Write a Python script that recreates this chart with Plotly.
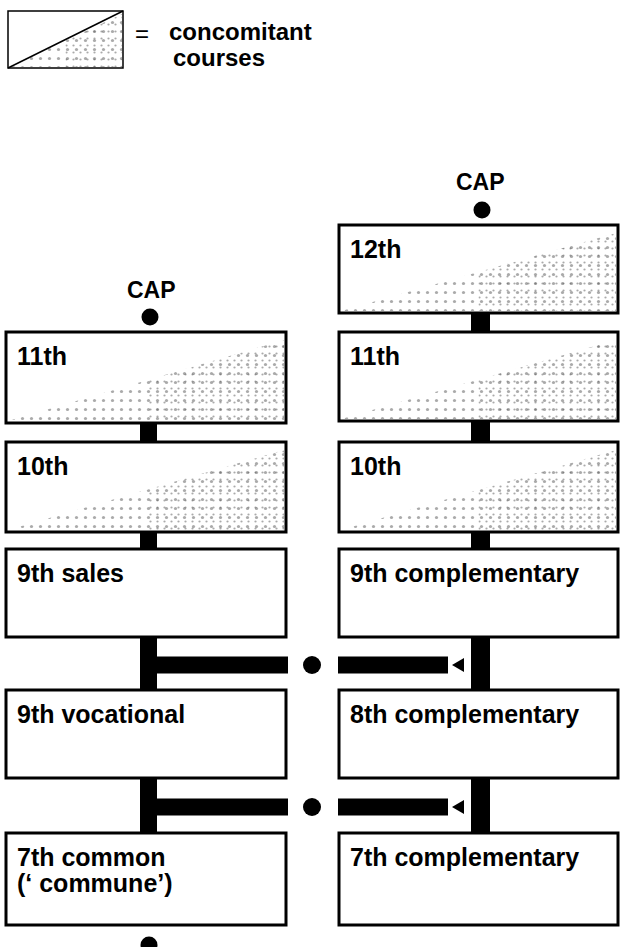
import plotly.graph_objects as go

W, H = 621, 947

# ---- content ----
legend_text = ["concomitant", "courses"]
cap_label = "CAP"
left_labels = ["11th", "10th", "9th sales", "9th vocational", "7th common<br>(‘ commune’)"]
right_labels = ["12th", "11th", "10th", "9th complementary", "8th complementary", "7th complementary"]
left_concomitant = [True, True, False, False, False]
right_concomitant = [True, True, True, False, False, False]

# ---- layout geometry (pixels) ----
LX0, LX1 = 6, 286
RX0, RX1 = 339, 618
left_top = [332, 442, 549, 690, 833]
left_bot = [423, 532, 637, 778, 925]
right_top = [225, 332, 442, 549, 690, 833]
right_bot = [313, 421, 532, 637, 778, 925]
LCX = (140, 157)
RCX = (471, 490)

FONT = "Liberation Sans, Arial, Helvetica, sans-serif"
LABEL_SIZE = 25

fig = go.Figure()
shapes = []
annotations = []


def rect(x0, y0, x1, y1, fill="black", lw=0, layer="below"):
    shapes.append(dict(type="rect", xref="x", yref="y", x0=x0, y0=y0, x1=x1, y1=y1,
                       fillcolor=fill, line=dict(color="black", width=lw), layer=layer))


def circle(cx, cy, r):
    shapes.append(dict(type="circle", xref="x", yref="y", x0=cx - r, y0=cy - r, x1=cx + r, y1=cy + r,
                       fillcolor="black", line=dict(color="black", width=0), layer="above"))


def text(x, y, s, size=LABEL_SIZE, bold=True, anchor="left"):
    annotations.append(dict(x=x, y=y, xref="x", yref="y", text=s, showarrow=False,
                            xanchor=anchor, yanchor="middle",
                            font=dict(family=FONT, size=size, color="black",
                                      weight="bold" if bold else "normal")))


def stipple(x0, y0, x1, y1):
    # lower-right triangle, denser toward the right
    fig.add_trace(go.Scatter(x=[x0, x1, x1, x0], y=[y1, y1, y0, y1], mode="lines",
                             line=dict(width=0), fill="toself", fillcolor="rgba(0,0,0,0)",
                             fillpattern=dict(shape=".", fgcolor="#555", bgcolor="rgba(0,0,0,0)",
                                              size=9, solidity=0.1, fillmode="overlay"),
                             hoverinfo="skip", showlegend=False))
    xm = x0 + 0.5 * (x1 - x0)
    ym = y1 - 0.5 * (y1 - y0)
    fig.add_trace(go.Scatter(x=[xm, x1, x1, xm, xm], y=[y1, y1, y0, ym, y1], mode="lines",
                             line=dict(width=0), fill="toself", fillcolor="rgba(0,0,0,0)",
                             fillpattern=dict(shape=".", fgcolor="#555", bgcolor="rgba(0,0,0,0)",
                                              size=7, solidity=0.08, fillmode="overlay"),
                             hoverinfo="skip", showlegend=False))


def column(labels, tops, bots, conc, x0, x1, cx):
    for i, lab in enumerate(labels):
        rect(x0, tops[i], x1, bots[i], fill="white", lw=3, layer="below")
        if conc[i]:
            stipple(x0 + 2, tops[i] + 8, x1 - 2, bots[i] - 2)
        lines = lab.split("<br>")
        for j, ln in enumerate(lines):
            text(x0 + 9, tops[i] + 24 + 26 * j, ln)
        if i < len(labels) - 1:
            rect(cx[0], bots[i], cx[1], tops[i + 1], layer="above")


# legend
rect(8, 11, 123, 68, fill="white", lw=1.5, layer="below")
stipple(9, 14, 122, 67)
shapes.append(dict(type="line", xref="x", yref="y", x0=8, y0=68, x1=123, y1=11,
                   line=dict(color="black", width=1.5), layer="above"))
text(142, 33, "=", size=24, bold=False, anchor="center")
text(167, 31, legend_text[0], size=24)
text(171, 57, legend_text[1], size=24)

column(left_labels, left_top, left_bot, left_concomitant, LX0, LX1, LCX)
column(right_labels, right_top, right_bot, right_concomitant, RX0, RX1, RCX)

# CAP markers
text(151, 290, cap_label, size=23, anchor="center")
circle(150, 317, 8.5)
text(480, 182, cap_label, size=23, anchor="center")
circle(482, 210, 8.5)

# bottom entry dot
circle(149, 945, 8.5)

# cross links from the complementary track
for k in (3, 4):
    yc = (left_bot[k - 1] + left_top[k]) / 2 + 1.5
    h = 8.5
    rect(LCX[1], yc - h, 288, yc + h, layer="above")
    circle(312, yc, 9)
    rect(338, yc - h, 448, yc + h, layer="above")
    shapes.append(dict(type="path", xref="x", yref="y",
                       path=f"M 452 {yc} L 464 {yc - 7} L 464 {yc + 7} Z",
                       fillcolor="black", line=dict(color="black", width=0), layer="above"))

fig.update_layout(
    width=W, height=H,
    margin=dict(l=0, r=0, t=0, b=0),
    paper_bgcolor="white", plot_bgcolor="white",
    xaxis=dict(range=[0, W], visible=False, fixedrange=True),
    yaxis=dict(range=[H, 0], visible=False, fixedrange=True),
    shapes=shapes, annotations=annotations,
    showlegend=False,
)

fig.write_html("out.html", config={"displayModeBar": False},
               post_script="document.body.style.margin='0';document.body.style.overflow='hidden';")
